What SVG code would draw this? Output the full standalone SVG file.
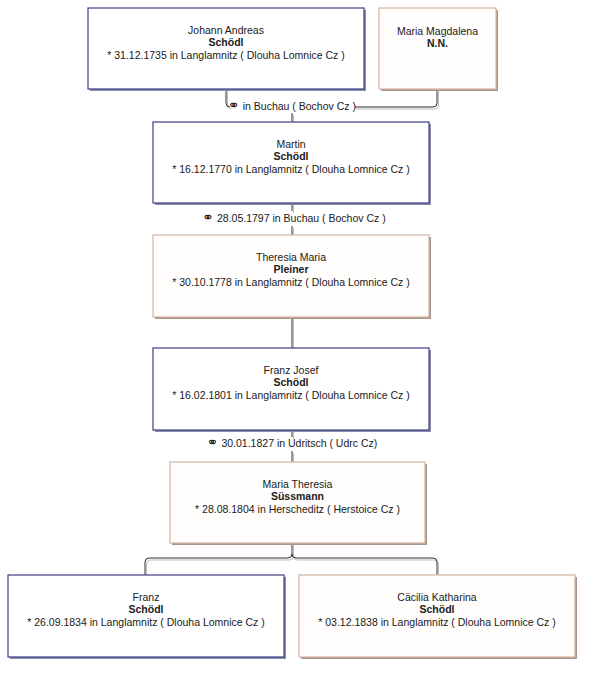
<svg xmlns="http://www.w3.org/2000/svg" width="590" height="673" viewBox="0 0 590 673">
<style>
text{font-family:"Liberation Sans",Arial,"DejaVu Sans",sans-serif;font-size:10.5px;fill:#202020;text-anchor:middle}
.b{font-weight:bold}
.sym{font-family:"DejaVu Sans",sans-serif;font-size:14px}
.m rect.f{fill:#fff;stroke:#3c3c88;stroke-width:1.2}
.m rect.s{fill:#8c8cab}
.w rect.f{fill:#fffefc;stroke:#d2b4a2;stroke-width:1.2}
.w rect.s{fill:#a8968c}
.ln{fill:none;stroke:#303030;stroke-width:1}
.sh{fill:none;stroke:#bdbdbd;stroke-width:1}
</style>
<rect width="590" height="673" fill="#fff"/>
<g id="connectors">
<g transform="translate(1.5,2)">
<path class="sh" d="M226,89V103q0,4 4,4M355,107H433q4,0 4,-4V89M292,113V122M292,203V211M292,226V235M292,317V348M292,430V437M292,451V462M292,543V554q0,4 -4,4H149q-4,0 -4,4V575M292,554q0,4 4,4H433q4,0 4,4V575"/>
</g>
<path class="ln" d="M226,89V103q0,4 4,4M355,107H433q4,0 4,-4V89M292,113V122M292,203V211M292,226V235M292,317V348M292,430V437M292,451V462M292,543V554q0,4 -4,4H149q-4,0 -4,4V575M292,554q0,4 4,4H433q4,0 4,4V575"/>
<text x="292" y="110"><tspan class="sym">⚭</tspan> in Buchau ( Bochov Cz )</text>
<text x="294" y="222"><tspan class="sym">⚭</tspan>  28.05.1797 in Buchau ( Bochov Cz )</text>
<text x="292" y="447"><tspan class="sym">⚭</tspan>  30.01.1827 in Udritsch ( Udrc Cz)</text>
</g>
<g id="johann" class="m">
<rect class="s" x="90" y="10" width="276" height="81"/>
<rect class="f" x="88" y="8" width="276" height="81"/>
<text x="226" y="34">Johann Andreas</text>
<text class="b" x="226" y="46">Schödl</text>
<text x="226" y="59">* 31.12.1735 in Langlamnitz ( Dlouha Lomnice Cz )</text>
</g>
<g id="maria-magdalena" class="w">
<rect class="s" x="381" y="10" width="117" height="81"/>
<rect class="f" x="379" y="8" width="117" height="81"/>
<text x="437.5" y="35">Maria Magdalena</text>
<text class="b" x="437.5" y="47">N.N.</text>
</g>
<g id="martin" class="m">
<rect class="s" x="155" y="124" width="276" height="81"/>
<rect class="f" x="153" y="122" width="276" height="81"/>
<text x="291" y="148">Martin</text>
<text class="b" x="291" y="160">Schödl</text>
<text x="291" y="173">* 16.12.1770 in Langlamnitz ( Dlouha Lomnice Cz )</text>
</g>
<g id="theresia-maria" class="w">
<rect class="s" x="155" y="237" width="276" height="82"/>
<rect class="f" x="153" y="235" width="276" height="82"/>
<text x="291" y="261">Theresia Maria</text>
<text class="b" x="291" y="273">Pleiner</text>
<text x="291" y="286">* 30.10.1778 in Langlamnitz ( Dlouha Lomnice Cz )</text>
</g>
<g id="franz-josef" class="m">
<rect class="s" x="155" y="350" width="276" height="82"/>
<rect class="f" x="153" y="348" width="276" height="82"/>
<text x="291" y="374">Franz Josef</text>
<text class="b" x="291" y="386">Schödl</text>
<text x="291" y="399">* 16.02.1801 in Langlamnitz ( Dlouha Lomnice Cz )</text>
</g>
<g id="maria-theresia" class="w">
<rect class="s" x="172" y="464" width="255" height="81"/>
<rect class="f" x="170" y="462" width="255" height="81"/>
<text x="297.5" y="488">Maria Theresia</text>
<text class="b" x="297.5" y="500">Süssmann</text>
<text x="297.5" y="513">* 28.08.1804 in Herscheditz ( Herstoice Cz )</text>
</g>
<g id="franz" class="m">
<rect class="s" x="10" y="577" width="276" height="82"/>
<rect class="f" x="8" y="575" width="276" height="82"/>
<text x="146" y="601">Franz</text>
<text class="b" x="146" y="613">Schödl</text>
<text x="146" y="626">* 26.09.1834 in Langlamnitz ( Dlouha Lomnice Cz )</text>
</g>
<g id="caecilia" class="w">
<rect class="s" x="301" y="577" width="276" height="82"/>
<rect class="f" x="299" y="575" width="276" height="82"/>
<text x="437" y="601">Cäcilia Katharina</text>
<text class="b" x="437" y="613">Schödl</text>
<text x="437" y="626">* 03.12.1838 in Langlamnitz ( Dlouha Lomnice Cz )</text>
</g>
</svg>
